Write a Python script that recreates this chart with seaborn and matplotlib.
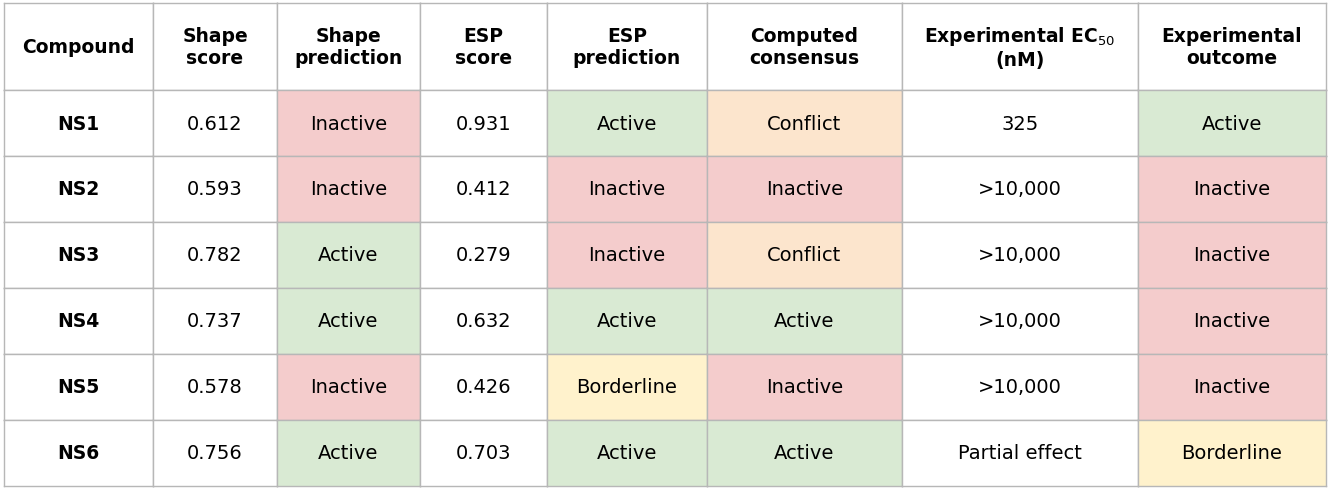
import numpy as np
import seaborn as sns
import matplotlib.pyplot as plt
from matplotlib.colors import ListedColormap

headers = ["Compound", "Shape\nscore", "Shape\nprediction", "ESP\nscore", "ESP\nprediction",
           "Computed\nconsensus", "Experimental EC$_{50}$\n(nM)", "Experimental\noutcome"]
compounds = ["NS1", "NS2", "NS3", "NS4", "NS5", "NS6"]
shape_score = ["0.612", "0.593", "0.782", "0.737", "0.578", "0.756"]
shape_pred = ["Inactive", "Inactive", "Active", "Active", "Inactive", "Active"]
esp_score = ["0.931", "0.412", "0.279", "0.632", "0.426", "0.703"]
esp_pred = ["Active", "Inactive", "Inactive", "Active", "Borderline", "Active"]
consensus = ["Conflict", "Inactive", "Conflict", "Active", "Inactive", "Active"]
ec50 = ["325", ">10,000", ">10,000", ">10,000", ">10,000", "Partial effect"]
outcome = ["Active", "Inactive", "Inactive", "Inactive", "Inactive", "Borderline"]

columns = [compounds, shape_score, shape_pred, esp_score, esp_pred, consensus, ec50, outcome]
col_widths = [149, 124, 143, 127, 160, 195, 236, 188]
row_heights = [87] + [66] * 6

# 0 white, 1 green, 2 red, 3 orange, 4 yellow
code = {"Active": 1, "Inactive": 2, "Conflict": 3, "Borderline": 4}
cmap = ListedColormap(["#ffffff", "#d9ead3", "#f4cccc", "#fce5cd", "#fff2cc"])

fig = plt.figure(figsize=(13.3, 4.89), dpi=100)
gs = fig.add_gridspec(len(row_heights), len(columns), width_ratios=col_widths,
                      height_ratios=row_heights, wspace=0, hspace=0,
                      left=4 / 1330, right=1326 / 1330, top=1 - 4 / 489, bottom=2 / 489)

for j, col in enumerate(columns):
    ax = fig.add_subplot(gs[:, j])
    vals = np.array([[0]] + [[code.get(v, 0)] for v in col], dtype=float)
    # header row taller: repeat via pcolormesh edges is not available, so use uniform heatmap per column
    sns.heatmap(vals, ax=ax, cmap=cmap, vmin=-0.5, vmax=4.5, cbar=False,
                linewidths=1, linecolor="#b7b7b7", xticklabels=False, yticklabels=False)
    ax.set_ylim(len(vals), 0)
    ax.set_aspect("auto")
    ax.remove()

# re-draw with per-row axes to get variable row heights
for j, col in enumerate(columns):
    for i in range(len(row_heights)):
        ax = fig.add_subplot(gs[i, j])
        if i == 0:
            v, txt = 0, headers[j]
        else:
            v, txt = code.get(col[i - 1], 0), col[i - 1]
        sns.heatmap(np.array([[v]], dtype=float), ax=ax, cmap=cmap, vmin=-0.5, vmax=4.5,
                    cbar=False, xticklabels=False, yticklabels=False)
        for s in ax.spines.values():
            s.set_visible(True)
            s.set_color("#b7b7b7")
            s.set_linewidth(1)
        bold = i == 0 or j == 0
        ax.text(0.5, 0.5, txt, ha="center", va="center", fontsize=14 if not bold else 13.5,
                fontweight="bold" if bold else "normal", color="#000000",
                linespacing=1.15, transform=ax.transAxes)

fig.savefig("out.png", dpi=100)
